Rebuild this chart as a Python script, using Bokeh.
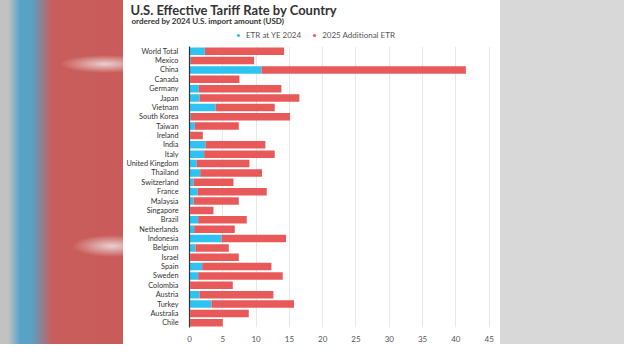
from bokeh.plotting import figure
from bokeh.models import FactorRange, Range1d, Legend, LegendItem, Div, ColumnDataSource, Title
from bokeh.layouts import row, column
from bokeh.embed import file_html
from bokeh.resources import INLINE

countries = ["World Total", "Mexico", "China", "Canada", "Germany", "Japan", "Vietnam",
             "South Korea", "Taiwan", "Ireland", "India", "Italy", "United Kingdom",
             "Thailand", "Switzerland", "France", "Malaysia", "Singapore", "Brazil",
             "Netherlands", "Indonesia", "Belgium", "Israel", "Spain", "Sweden",
             "Colombia", "Austria", "Turkey", "Australia", "Chile"]
etr_2024 = [2.3, 0.2, 10.8, 0.1, 1.4, 1.5, 3.9, 0.2, 0.8, 0.1, 2.4, 2.2, 1.1, 1.6, 0.6,
            1.2, 0.6, 0.1, 1.3, 0.7, 4.8, 0.9, 0.1, 1.9, 1.3, 0.1, 1.5, 3.3, 0.1, 0.1]
additional_2025 = [11.9, 9.5, 30.7, 7.4, 12.4, 15.0, 8.9, 14.9, 6.6, 1.9, 9.0, 10.6, 7.9,
                   9.3, 6.0, 10.4, 6.8, 3.5, 7.3, 6.1, 9.7, 5.0, 7.3, 10.4, 12.7, 6.4,
                   11.1, 12.4, 8.8, 4.9]
x_ticks = [0, 5, 10, 15, 20, 25, 30, 35, 40, 45]
series_names = ["ETR at YE 2024", "2025 Additional ETR"]
colors = ["#2fc3f2", "#e85a5a"]
title_text = "U.S. Effective Tariff Rate by Country"
subtitle_text = "ordered by 2024 U.S. import amount (USD)"

FONT = "Lato"
DARK = "#333333"
W = 377
HEAD_H = 46
MAIN_H = 298
LEFT_BORDER = 65

# ---------- header (title, subtitle, legend) ----------
head = figure(width=W, height=HEAD_H, output_backend="svg", toolbar_location=None,
              x_range=Range1d(0, 1), y_range=Range1d(0, 1),
              min_border_left=LEFT_BORDER, min_border_right=8, min_border_top=0,
              min_border_bottom=0, outline_line_color=None, margin=0,
              background_fill_color="white", border_fill_color="white")
head.axis.visible = False
head.grid.visible = False
# legend markers (single point off-frame, only the legend shows them)
dots = [head.scatter(x=[-10], y=[-10], marker="circle", size=7, color=c, line_color=None)
        for c in colors]
legend = Legend(items=[LegendItem(label=n, renderers=[d]) for n, d in zip(series_names, dots)],
                orientation="horizontal", location=(45, 6),
                glyph_width=8, glyph_height=8, label_standoff=4, spacing=9,
                padding=0, margin=0, border_line_color=None, background_fill_alpha=0,
                label_text_font=FONT, label_text_font_size="8px", label_text_color="#555555",
                label_height=10)
head.add_layout(legend, "center")
head.add_layout(Title(text=subtitle_text, align="left", offset=-58, text_font=FONT,
                      text_font_size="8px", text_font_style="bold", text_color=DARK,
                      standoff=-6), "above")
head.add_layout(Title(text=title_text, align="left", offset=-59, text_font=FONT,
                      text_font_size="13px", text_font_style="bold", text_color=DARK,
                      standoff=-2), "above")

# ---------- main bar chart ----------
src = ColumnDataSource(dict(country=countries, etr=etr_2024, add=additional_2025))
p = figure(width=W, height=MAIN_H, output_backend="svg", toolbar_location=None,
           y_range=FactorRange(factors=list(reversed(countries))),
           x_range=Range1d(0, 45.5),
           min_border_left=LEFT_BORDER, min_border_right=8, min_border_top=0,
           min_border_bottom=12,
           background_fill_color="white", border_fill_color="white", outline_line_color=None,
           margin=0)
p.hbar_stack(["etr", "add"], y="country", height=0.8, color=colors, line_color=None, source=src)

p.xaxis.ticker = x_ticks
p.xaxis.axis_line_color = None
p.xaxis.major_tick_line_color = None
p.xaxis.minor_tick_line_color = None
p.xaxis.major_label_text_font = FONT
p.xaxis.major_label_text_font_size = "8px"
p.xaxis.major_label_text_color = "#555555"
p.xaxis.major_label_text_align = "right"
p.xaxis.major_label_standoff = 2

p.yaxis.axis_line_color = DARK
p.yaxis.axis_line_width = 1.2
p.yaxis.major_tick_line_color = None
p.yaxis.minor_tick_line_color = None
p.yaxis.major_label_text_font = FONT
p.yaxis.major_label_text_font_size = "7.3px"
p.yaxis.major_label_text_color = DARK
p.yaxis.major_label_standoff = 5

p.ygrid.grid_line_color = None
p.xgrid.grid_line_color = "#e8e8e8"
p.xgrid.grid_line_width = 1

# ---------- blurred backdrop on both sides ----------
left_bg = Div(width=123, height=HEAD_H + MAIN_H, margin=0, styles={
    "background": "radial-gradient(ellipse 45px 9px at 105px 64px, rgba(236,214,214,0.95), rgba(236,214,214,0)),"
                  "radial-gradient(ellipse 40px 11px at 112px 246px, rgba(236,214,214,0.95), rgba(236,214,214,0)),"
                  "linear-gradient(to right, #c2c2c2 0px, #c2c2c2 8px, #55a5c8 20px, #5aa0c4 32px, #c85e5c 52px, #c95b59 100%)"})
right_bg = Div(width=124, height=HEAD_H + MAIN_H, margin=0, styles={"background": "#d8d8d8"})

layout = row(left_bg, column(head, p, spacing=0), right_bg, spacing=0)

open("out.html", "w").write(file_html(layout, INLINE))
